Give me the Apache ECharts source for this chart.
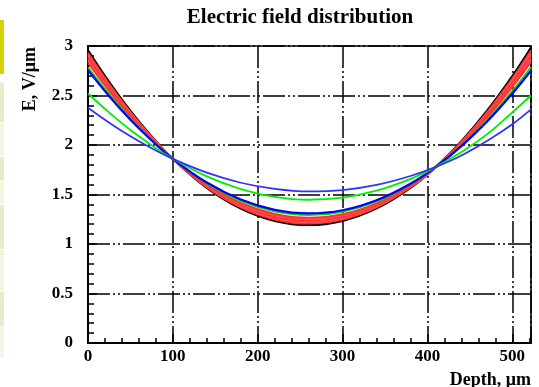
<!DOCTYPE html>
<html><head><meta charset="utf-8">
<script src="https://cdn.jsdelivr.net/npm/echarts@6/dist/echarts.min.js"></script>
<style>html,body{margin:0;padding:0;background:#fff}#c{width:539px;height:387px}</style>
</head><body><div id="c"></div>
<script>
// Depth positions (µm) where the curves were read
const depth = [0,25,50,75,100,140,180,220,260,300,340,380,410,440,470,500,522];
// Electric field values (V/µm)
const blackCurve = [2.956,2.634,2.343,2.086,1.860,1.568,1.359,1.234,1.192,1.234,1.360,1.568,1.779,2.038,2.343,2.695,2.984];
const red1 = [2.931,2.616,2.332,2.081,1.860,1.575,1.370,1.248,1.206,1.247,1.370,1.573,1.779,2.032,2.330,2.674,2.955];
const red2 = [2.906,2.598,2.321,2.075,1.860,1.581,1.381,1.262,1.221,1.261,1.380,1.578,1.779,2.026,2.316,2.652,2.926];
const red3 = [2.881,2.581,2.310,2.070,1.860,1.588,1.392,1.276,1.236,1.274,1.390,1.583,1.779,2.020,2.303,2.630,2.897];
const red4 = [2.856,2.563,2.299,2.065,1.860,1.595,1.404,1.290,1.250,1.288,1.401,1.588,1.779,2.013,2.289,2.608,2.868];
const red5 = [2.831,2.546,2.288,2.060,1.860,1.601,1.415,1.304,1.265,1.301,1.411,1.593,1.779,2.007,2.276,2.586,2.839];
const green1 = [2.786,2.514,2.268,2.051,1.860,1.613,1.435,1.329,1.291,1.325,1.429,1.603,1.779,1.996,2.251,2.546,2.788];
const blue1 = [2.756,2.493,2.255,2.045,1.860,1.621,1.449,1.345,1.309,1.341,1.442,1.609,1.779,1.989,2.235,2.520,2.753];
const green2 = [2.520,2.327,2.151,1.997,1.860,1.683,1.555,1.476,1.447,1.468,1.538,1.657,1.779,1.930,2.107,2.330,2.500];
const blue2 = [2.376,2.225,2.088,1.967,1.860,1.721,1.619,1.557,1.531,1.545,1.597,1.687,1.779,1.894,2.040,2.210,2.360];

const xTicks = ['0','100','200','300','400','500'];
const yTicks = ['0','0.5','1','1.5','2','2.5','3'];

const curves = [
  {d: blackCurve, c: '#000000', w: 2.2},
  {d: red1, c: '#ff3030', w: 2},
  {d: red2, c: '#ff5050', w: 2},
  {d: red3, c: '#ff3030', w: 2},
  {d: red4, c: '#ff5050', w: 2},
  {d: red5, c: '#ff3030', w: 2},
  {d: green1, c: '#00e000', w: 1.8},
  {d: blue1, c: '#0000ff', w: 2.2},
  {d: green2, c: '#00ee00', w: 1.8},
  {d: blue2, c: '#3030ff', w: 1.7}
];

const font = 'Liberation Serif';
const gridDash = [22,3,2,3,2,3];

const chart = echarts.init(document.getElementById('c'), null, {renderer: 'canvas'});
chart.setOption({
  animation: false,
  backgroundColor: '#ffffff',
  title: {
    text: 'Electric field distribution',
    left: 300, top: 7, padding: 0, textAlign: 'center',
    textStyle: {fontFamily: font, fontWeight: 'bold', fontSize: 21, color: '#000'}
  },
  grid: {left: 88, top: 46, right: 8, bottom: 44},
  xAxis: [{
    type: 'value', min: 0, max: 522, interval: 100,
    axisLine: {show: true, onZero: false, lineStyle: {color: '#000', width: 2}},
    axisTick: {show: true, inside: true, length: 9, lineStyle: {color: '#000', width: 1.5}},
    minorTick: {show: true, splitNumber: 5, length: 5, lineStyle: {color: '#000', width: 1.5}},
    splitLine: {show: true, lineStyle: {color: '#000', width: 1.5, type: gridDash}},
    axisLabel: {
      showMaxLabel: false, margin: 5, color: '#000',
      fontFamily: font, fontWeight: 'bold', fontSize: 17,
      formatter: v => xTicks[Math.round(v / 100)] ?? ''
    }
  }, {
    type: 'value', min: 0, max: 522, position: 'top',
    axisLine: {show: true, onZero: false, lineStyle: {color: '#000', width: 1.6}},
    axisTick: {show: false}, axisLabel: {show: false}, splitLine: {show: false}
  }],
  yAxis: [{
    type: 'value', min: 0, max: 3, interval: 0.5,
    axisLine: {show: true, onZero: false, lineStyle: {color: '#000', width: 2}},
    axisTick: {show: true, inside: true, length: 9, lineStyle: {color: '#000', width: 1.5}},
    minorTick: {show: true, splitNumber: 5, length: 6, lineStyle: {color: '#000', width: 1.5}},
    splitLine: {show: true, lineStyle: {color: '#000', width: 1.5, type: gridDash}},
    axisLabel: {
      margin: 15, color: '#000',
      fontFamily: font, fontWeight: 'bold', fontSize: 17,
      formatter: v => yTicks[Math.round(v / 0.5)] ?? ''
    }
  }, {
    type: 'value', min: 0, max: 3, position: 'right',
    axisLine: {show: true, onZero: false, lineStyle: {color: '#000', width: 1.6}},
    axisTick: {show: false}, axisLabel: {show: false}, splitLine: {show: false}
  }],
  graphic: [
    {type: 'text', x: 30, y: 47, rotation: Math.PI / 2,
     style: {text: 'E, V/\u03bcm', fontFamily: font, fontWeight: 'bold', fontSize: 18,
             fill: '#000', align: 'right', verticalAlign: 'middle'}},
    {type: 'text', x: 531, y: 380,
     style: {text: 'Depth, \u03bcm', fontFamily: font, fontWeight: 'bold', fontSize: 18,
             fill: '#000', align: 'right', verticalAlign: 'middle'}},
    {type: 'rect', shape: {x: 0, y: 20, width: 4, height: 54}, style: {fill: '#d4d200'}},
    {type: 'rect', shape: {x: 0, y: 83, width: 4, height: 39}, style: {fill: '#eae9cc'}},
    {type: 'rect', shape: {x: 0, y: 123, width: 4, height: 33}, style: {fill: '#f4f3e4'}},
    {type: 'rect', shape: {x: 0, y: 157, width: 4, height: 24}, style: {fill: '#eae9cc'}},
    {type: 'rect', shape: {x: 0, y: 182, width: 4, height: 22}, style: {fill: '#f4f3e4'}},
    {type: 'rect', shape: {x: 0, y: 205, width: 4, height: 44}, style: {fill: '#eae9cc'}},
    {type: 'rect', shape: {x: 0, y: 250, width: 4, height: 41}, style: {fill: '#f4f3e4'}},
    {type: 'rect', shape: {x: 0, y: 292, width: 4, height: 34}, style: {fill: '#eae9cc'}},
    {type: 'rect', shape: {x: 0, y: 327, width: 4, height: 30}, style: {fill: '#f4f3e4'}}
  ],
  series: curves.map(s => ({
    type: 'line', xAxisIndex: 0, yAxisIndex: 0,
    data: depth.map((x, i) => [x, s.d[i]]),
    smooth: 0.4, showSymbol: false, silent: true,
    lineStyle: {color: s.c, width: s.w}
  }))
});
</script></body></html>
